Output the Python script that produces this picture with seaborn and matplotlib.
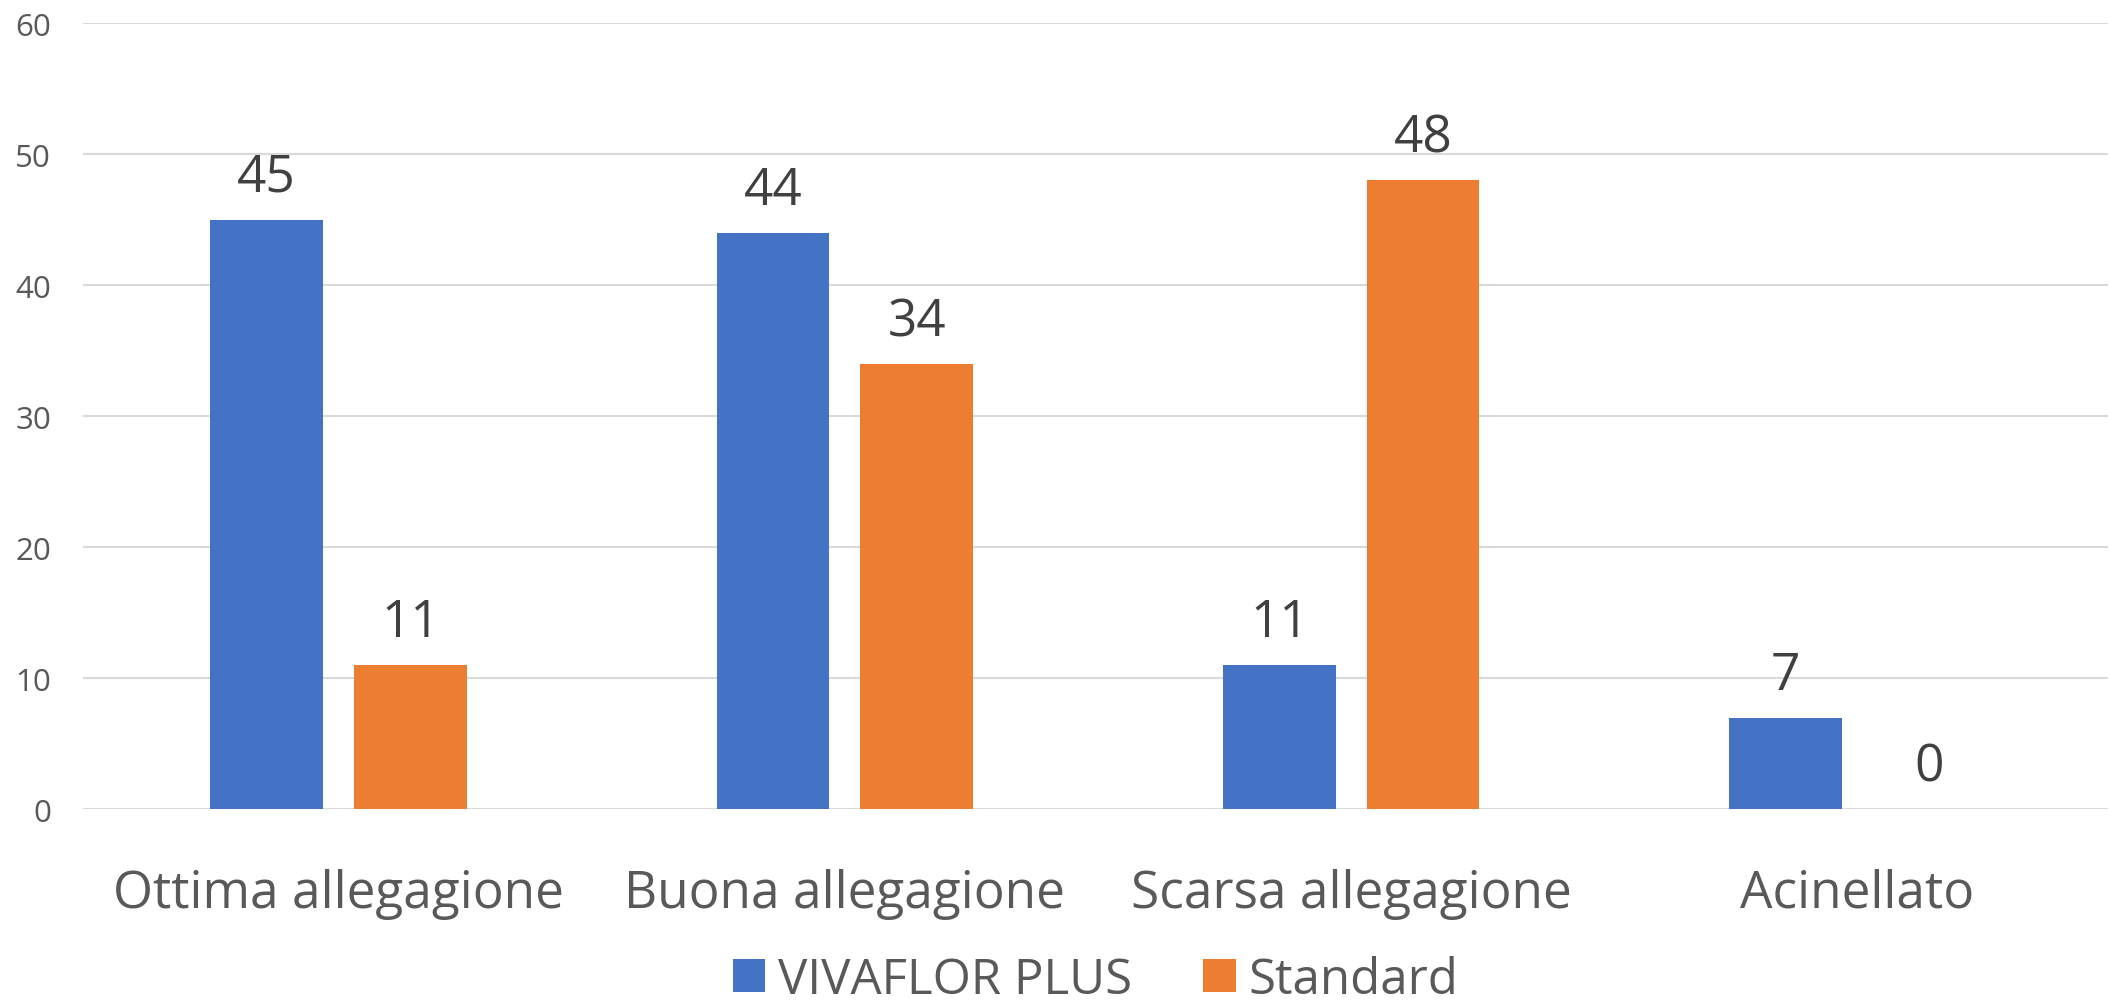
import matplotlib
matplotlib.use("Agg")
import matplotlib.pyplot as plt
import seaborn as sns
import pandas as pd

categories = ["Ottima allegagione", "Buona allegagione", "Scarsa allegagione", "Acinellato"]
series_names = ["VIVAFLOR PLUS", "Standard"]
vivaflor = [45, 44, 11, 7]
standard = [11, 34, 48, 0]
yticks = [0, 10, 20, 30, 40, 50, 60]

df = pd.DataFrame({
    "cat": categories * 2,
    "serie": [series_names[0]] * 4 + [series_names[1]] * 4,
    "val": vivaflor + standard,
})

sns.set_theme(style="white")
plt.rcParams["font.family"] = ["Open Sans", "DejaVu Sans"]

fig = plt.figure(figsize=(21.11, 10.04), dpi=100)
ax = fig.add_axes([0.0393, 0.193, 0.9593, 0.783])

palette = {series_names[0]: "#4472C4", series_names[1]: "#ED7D31"}
sns.barplot(data=df, x="cat", y="val", hue="serie", order=categories,
            hue_order=series_names, palette=palette, width=0.568, gap=0.215,
            saturation=1, ax=ax, edgecolor="none", linewidth=0)

ax.set_ylim(0, 60)
ax.set_xlim(-0.505, 3.495)
ax.set_yticks(yticks)
ax.set_yticklabels([str(t) for t in yticks])
ax.yaxis.grid(True, color="#D9D9D9", linewidth=1.5)
ax.set_axisbelow(True)
for s in ax.spines.values():
    s.set_visible(False)
ax.tick_params(axis="y", length=0, pad=23, labelsize=22.5, labelcolor="#595959")
ax.tick_params(axis="x", length=0, pad=42, labelsize=37, labelcolor="#595959")
ax.set_xlabel("")
ax.set_ylabel("")

for cont in ax.containers:
    ax.bar_label(cont, labels=[f"{v:g}" for v in cont.datavalues], padding=12,
                 fontsize=37, color="#404040")

handles, labels = ax.get_legend_handles_labels()
ax.legend(handles, labels, loc="center", bbox_to_anchor=(0.5, -0.217), ncol=2,
          frameon=False, fontsize=35.5, labelcolor="#595959",
          handlelength=0.66, handleheight=0.66, handletextpad=0.25, columnspacing=1.45)

fig.savefig("out.png", dpi=100)
